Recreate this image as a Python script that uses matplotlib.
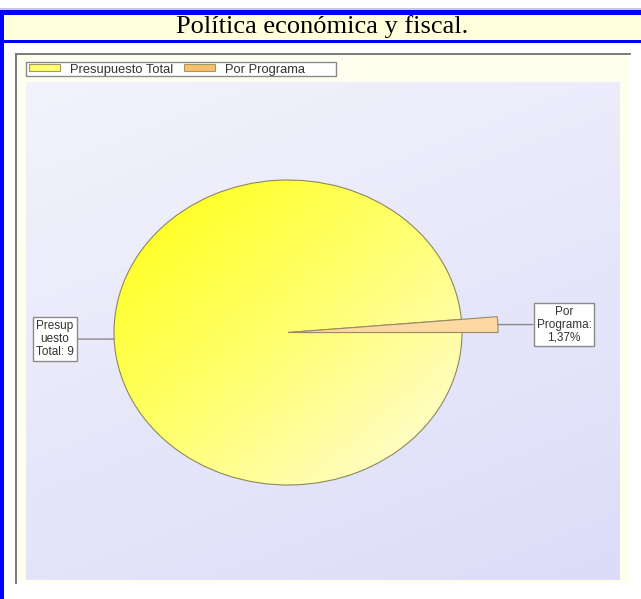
import numpy as np
import matplotlib
matplotlib.use("Agg")
import matplotlib.pyplot as plt
from matplotlib.patches import Rectangle, Patch
from matplotlib.colors import LinearSegmentedColormap

plt.rcParams['font.family'] = ['Liberation Sans', 'DejaVu Sans']

title = "Política económica y fiscal."
labels = ["Presupuesto Total", "Por Programa"]
values = [98.63, 1.37]
slice_text = ["Presup\nuesto\nTotal: 9", "Por\nPrograma:\n1,37%"]
legend_colors = ["#ffff70", "#f9bf6a"]

W, H = 641, 599
fig = plt.figure(figsize=(W / 100, H / 100), dpi=100)

# page decorations in pixel coordinates
bg = fig.add_axes([0, 0, 1, 1])
bg.set_xlim(0, W)
bg.set_ylim(H, 0)
bg.axis('off')

bg.add_patch(Rectangle((0, 8), W, 1.5, color='#c8c8dc', lw=0))
bg.add_patch(Rectangle((0, 10), W, 5, color='#0000ff', lw=0))
bg.add_patch(Rectangle((4, 15), W, 25, color='#ffffdc', lw=0))
bg.add_patch(Rectangle((0, 39.5), W, 3.5, color='#0000ff', lw=0))
bg.add_patch(Rectangle((0, 10), 4, H, color='#0000ff', lw=0))
bg.text(322, 26.5, title, family='Liberation Serif', fontsize=19,
        ha='center', va='center', color='black')

# chart panel
bg.add_patch(Rectangle((16, 54), 614, 529, facecolor='#fffff0', lw=0))
bg.plot([16, 630], [54, 54], color='#7a7a7a', lw=1.4)
bg.plot([16, 16], [54, 583], color='#7a7a7a', lw=1.4)

yy, xx = np.mgrid[0:1:200j, 0:1:200j]
t = 0.75 * yy + 0.35 * xx
lav = LinearSegmentedColormap.from_list('lav', ['#f3f3fc', '#dcdcf9'])
bg.imshow(lav(t / t.max()), extent=(26, 620, 580, 82), aspect='auto',
          interpolation='bilinear', zorder=1)
bg.set_xlim(0, W)
bg.set_ylim(H, 0)

# legend frame
bg.add_patch(Rectangle((26, 62), 310, 14, facecolor='white', edgecolor='#8a8a8a',
                       lw=1, zorder=2))

# pie axes: ellipse of half-width 174 px and half-height 152.5 px
cx, cy, rx, ry = 288, 332.5, 174, 152.5
ax = fig.add_axes([(cx - rx) / W, (H - cy - ry) / H, 2 * rx / W, 2 * ry / H])
ax.axis('off')
start = 360 * values[1] / sum(values)
wedges, _ = ax.pie(values, startangle=start, counterclock=True,
                   wedgeprops=dict(linewidth=0.8, edgecolor='#8c8a5c'))
ax.set_aspect('auto')
ax.set_xlim(-1, 1)
ax.set_ylim(-1, 1)

big, small = wedges
big.set_facecolor('none')
big.set_zorder(3)
gy, gx = np.mgrid[1:-1:200j, -1:1:200j]
g = np.clip((gx - gy + 2) / 4, 0, 1)
yel = LinearSegmentedColormap.from_list('yel', ['#ffff10', '#ffff70', '#fffde0'])
im = ax.imshow(yel(g), extent=(-1, 1, -1, 1), aspect='auto',
               interpolation='bilinear', zorder=2)
im.set_clip_path(big)

# thin slice is drawn longer than the pie
small.set_radius(1.207)
small.set_facecolor('#fcd9a0')
small.set_edgecolor('#9a8a6a')
small.set_clip_on(False)
small.set_zorder(4)

# slice labels with leader lines
box = dict(boxstyle='square,pad=0.25', facecolor='white', edgecolor='#8a8a8a', lw=1)
text_x = [-1.339, 1.586]
radii = [1.0, 1.207]
for w, txt, tx, r in zip(wedges, slice_text, text_x, radii):
    mid = np.deg2rad((w.theta1 + w.theta2) / 2)
    px, py = r * np.cos(mid), r * np.sin(mid)
    ax.annotate(txt, xy=(px, py), xytext=(tx, py), ha='center', va='center',
                fontsize=8.5, color='#333333', linespacing=1.1, bbox=box,
                arrowprops=dict(arrowstyle='-', color='#8a8a8a', lw=1,
                                shrinkA=0, shrinkB=0),
                annotation_clip=False, zorder=5)

# legend (frame drawn above)
handles = [Patch(facecolor=c, edgecolor='#a09a60', lw=0.8) for c in legend_colors]
leg = fig.legend(handles, labels, ncol=2, loc='center left',
                 bbox_to_anchor=(29 / W, 1 - 69.5 / H), borderaxespad=0,
                 fontsize=9.3, frameon=False,
                 handlelength=2.4, handleheight=0.45, handletextpad=0.8,
                 columnspacing=0.8, borderpad=0, labelcolor='#333333')

fig.savefig('out.png', dpi=100)
